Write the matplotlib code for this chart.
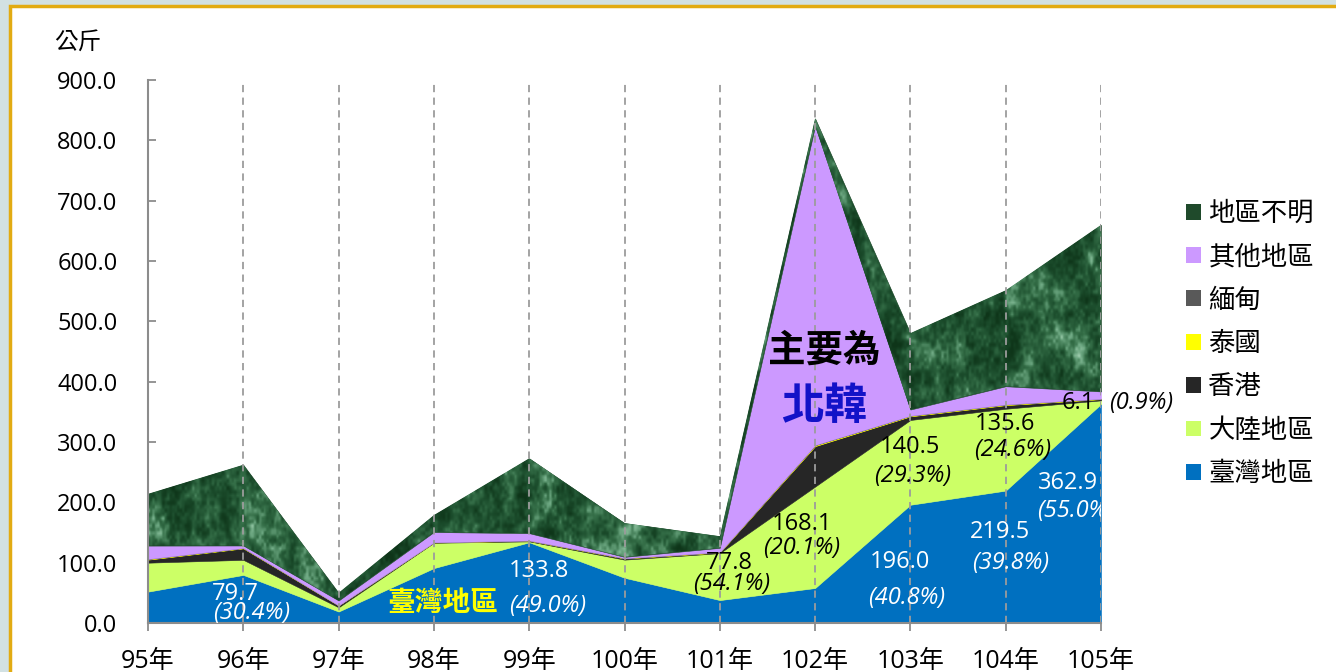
import numpy as np
import matplotlib
matplotlib.use('Agg')
import matplotlib.pyplot as plt
from matplotlib.patches import Rectangle, Patch
from matplotlib.colors import LinearSegmentedColormap

plt.rcParams['font.family'] = ['Open Sans', 'Noto Sans CJK TC', 'DejaVu Sans']

# data (kg)
years = ['95年', '96年', '97年', '98年', '99年', '100年', '101年', '102年', '103年', '104年', '105年']
taiwan = [52, 79.7, 19, 91, 133.8, 75, 38, 58, 196.0, 219.5, 362.9]
mainland = [48, 25, 7, 42, 1.5, 30, 77.8, 168.1, 140.5, 135.6, 6.1]
hongkong = [5, 19, 3, 0.5, 1, 2, 1, 67, 6, 6, 2]
thailand = [1, 0.5, 0.3, 0.3, 0.3, 0.3, 0.5, 1.5, 1, 1, 0.5]
myanmar = [0.3, 0.3, 0, 0, 0.3, 0.3, 0.3, 0.5, 0.3, 0.3, 0.3]
other = [22, 4, 8, 17, 12, 2, 7, 529, 10, 30, 12]
unknown = [85.7, 133.7, 12.7, 28, 124, 56, 19.2, 12.2, 126.6, 159, 276]

names = ['臺灣地區', '大陸地區', '香港', '泰國', '緬甸', '其他地區', '地區不明']
colors = ['#0070C0', '#CCFF66', '#262626', '#FFFF00', '#595959', '#CC99FF', '#1f4a2b']

fig = plt.figure(figsize=(13.36, 6.72), dpi=100)
fig.patch.set_facecolor('#d2e1e3')
frame = Rectangle((10 / 1336, -0.02), 1.2, 1.02 - 6 / 672, transform=fig.transFigure,
                  facecolor='white', edgecolor='#e2ab12', lw=2.5, zorder=-5)
fig.patches.append(frame)

ax = fig.add_axes([148 / 1336, 49 / 672, 953 / 1336, 543 / 672])
ax.set_zorder(1)
ax.patch.set_alpha(0)
x = np.arange(len(years))

polys = ax.stackplot(x, taiwan, mainland, hongkong, thailand, myanmar, other, unknown,
                     colors=colors, edgecolor='face', lw=0.4, zorder=2)


# mottled "moss" texture for 地區不明 (deterministic value noise)
def value_noise(h, w, cell, seed):
    gy = np.arange(h) / cell
    gx = np.arange(w) / cell
    iy, ix = np.floor(gy).astype(int), np.floor(gx).astype(int)
    fy, fx = gy - iy, gx - ix
    fy = fy * fy * (3 - 2 * fy)
    fx = fx * fx * (3 - 2 * fx)
    ny, nx = iy.max() + 2, ix.max() + 2
    J, I = np.meshgrid(np.arange(nx), np.arange(ny))
    grid = np.abs(np.modf(np.sin(I * 12.9898 + J * 78.233 + seed) * 43758.5453)[0])
    a = grid[np.ix_(iy, ix)]
    b = grid[np.ix_(iy, ix + 1)]
    c = grid[np.ix_(iy + 1, ix)]
    d = grid[np.ix_(iy + 1, ix + 1)]
    top = a + (b - a) * fx[None, :]
    bot = c + (d - c) * fx[None, :]
    return top + (bot - top) * fy[:, None]


h, w = 360, 960
tex = (0.25 * value_noise(h, w, 36, 1.3) + 0.3 * value_noise(h, w, 13, 2.7)
       + 0.25 * value_noise(h, w, 5, 4.1) + 0.2 * value_noise(h, w, 2.5, 5.9))
tex = (tex - tex.min()) / (tex.max() - tex.min())
tex = np.clip((tex - 0.15) / 0.85, 0, 1) ** 1.3
moss = LinearSegmentedColormap.from_list('moss', ['#0e3519', '#1d4f2e', '#356f48', '#6aa57f', '#a6d2b4'])
im = ax.imshow(tex, cmap=moss, extent=(0, 10, 0, 900), aspect='auto', zorder=2.5,
               interpolation='bilinear')
im.set_clip_path(polys[-1].get_paths()[0], ax.transData)

for i in range(1, len(years)):
    ax.axvline(i, color='#9c9c9c', lw=1.3, ls=(0, (4, 3)), zorder=4)

ax.set_xlim(0, 10)
ax.set_ylim(0, 900)
ax.set_yticks(np.arange(0, 901, 100))
ax.set_yticklabels([f'{v:.1f}' for v in np.arange(0, 901, 100)], fontsize=17)
ax.set_xticks(x)
ax.set_xticklabels(years, fontsize=18)
for s in ['top', 'right']:
    ax.spines[s].set_visible(False)
for s in ['left', 'bottom']:
    ax.spines[s].set_color('#8c8c8c')
    ax.spines[s].set_linewidth(1.5)
    ax.spines[s].set_zorder(5)
ax.tick_params(axis='y', direction='in', length=6, width=1.3, color='#8c8c8c', pad=22)
ax.tick_params(axis='x', direction='out', length=6, width=1.3, color='#8c8c8c', pad=13)

fig.text(78 / 1336, 1 - 42 / 672, '公斤', fontsize=17, family=['Noto Sans CJK TC'],
         ha='center', va='center')

# value labels
it = dict(style='italic', family=['Open Sans', 'DejaVu Sans'], fontsize=17, ha='center', va='center', zorder=6)
nm = dict(fontsize=17, ha='center', va='center', zorder=6)
ax.text(0.92, 48, '79.7', color='white', **nm)
ax.text(1.09, 17, '(30.4%)', color='white', **it)
ax.text(3.09, 33, '臺灣地區', color='#FFFF00', fontsize=20, fontweight='bold',
        family=['Noto Sans CJK TC'], ha='center', va='center', zorder=6)
ax.text(4.10, 86, '133.8', color='white', **nm)
ax.text(4.19, 28, '(49.0%)', color='white', **it)
ax.text(6.10, 99, '77.8', color='black', **nm)
ax.text(6.12, 65, '(54.1%)', color='black', **it)
ax.text(6.86, 164, '168.1', color='black', **nm)
ax.text(6.86, 124, '(20.1%)', color='black', **it)
ax.text(8.00, 292, '140.5', color='black', **nm)
ax.text(8.02, 244, '(29.3%)', color='black', **it)
ax.text(8.99, 330, '135.6', color='black', **nm)
ax.text(9.07, 287, '(24.6%)', color='black', **it)
ax.text(7.89, 101, '196.0', color='white', **nm)
ax.text(7.96, 41, '(40.8%)', color='white', **it)
ax.text(8.94, 151, '219.5', color='white', **nm)
ax.text(9.05, 100, '(39.8%)', color='white', **it)
t1 = ax.text(9.34, 232, '362.9', color='white', fontsize=17, ha='left', va='center', zorder=6)
t2 = ax.text(9.33, 186, '(55.0%)', color='white', style='italic', family=['Open Sans', 'DejaVu Sans'],
             fontsize=17, ha='left', va='center', zorder=6)
t1.set_clip_on(True)
t2.set_clip_on(True)
ax.text(9.76, 365, '6.1', color='black', **nm)
ax.text(10.09, 365, '(0.9%)', color='black', style='italic', family=['Open Sans', 'DejaVu Sans'],
        fontsize=17, ha='left', va='center', clip_on=False, zorder=6)
ax.text(7.10, 452, '主要為', color='black', fontsize=27, fontweight='bold',
        family=['Noto Sans CJK TC'], ha='center', va='center', zorder=6)
ax.text(7.09, 360, '北韓', color='#1212c8', fontsize=31, fontweight='bold',
        family=['Noto Sans CJK TC'], ha='center', va='center', zorder=6)

handles = [Patch(facecolor=c, edgecolor='none') for c in colors][::-1]
fig.legend(handles, names[::-1], loc='upper left', bbox_to_anchor=(1186 / 1336, 1 - 200 / 672),
           bbox_transform=fig.transFigure, frameon=False, borderpad=0, borderaxespad=0,
           prop={'family': ['Noto Sans CJK TC'], 'size': 19}, handlelength=0.55, handleheight=0.55,
           handletextpad=0.3, labelspacing=0.62)

fig.savefig('out.png', dpi=100)
